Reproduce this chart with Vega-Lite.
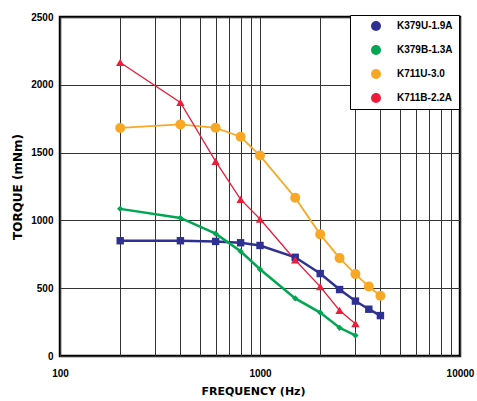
{
  "$schema": "https://vega.github.io/schema/vega-lite/v6.json",
  "width": 400,
  "height": 339,
  "autosize": {"type": "none"},
  "padding": {"left": 60, "top": 17, "right": 17, "bottom": 45},
  "background": "white",
  "config": {
    "view": {"stroke": "black", "strokeWidth": 2.5},
    "axis": {
      "labelFont": "Liberation Sans",
      "labelFontWeight": "bold",
      "labelFontSize": 10,
      "labelColor": "black",
      "titleFont": "DejaVu Sans",
      "titleFontWeight": "bold",
      "titleFontSize": 11,
      "titleColor": "black",
      "gridColor": "#333333",
      "gridOpacity": 1,
      "gridWidth": 1,
      "domain": false,
      "ticks": false
    }
  },
  "data": {
    "values": [
      {"series": "K379U-1.9A", "freq": 200, "torque": 850},
      {"series": "K379U-1.9A", "freq": 400, "torque": 850},
      {"series": "K379U-1.9A", "freq": 600, "torque": 845},
      {"series": "K379U-1.9A", "freq": 800, "torque": 835},
      {"series": "K379U-1.9A", "freq": 1000, "torque": 815},
      {"series": "K379U-1.9A", "freq": 1500, "torque": 728},
      {"series": "K379U-1.9A", "freq": 2000, "torque": 608},
      {"series": "K379U-1.9A", "freq": 2500, "torque": 490},
      {"series": "K379U-1.9A", "freq": 3000, "torque": 405},
      {"series": "K379U-1.9A", "freq": 3500, "torque": 345},
      {"series": "K379U-1.9A", "freq": 4000, "torque": 298},
      {"series": "K379B-1.3A", "freq": 200, "torque": 1085},
      {"series": "K379B-1.3A", "freq": 400, "torque": 1018},
      {"series": "K379B-1.3A", "freq": 600, "torque": 902},
      {"series": "K379B-1.3A", "freq": 800, "torque": 772},
      {"series": "K379B-1.3A", "freq": 1000, "torque": 640},
      {"series": "K379B-1.3A", "freq": 1500, "torque": 425},
      {"series": "K379B-1.3A", "freq": 2000, "torque": 320},
      {"series": "K379B-1.3A", "freq": 2500, "torque": 208},
      {"series": "K379B-1.3A", "freq": 3000, "torque": 152},
      {"series": "K711U-3.0", "freq": 200, "torque": 1682},
      {"series": "K711U-3.0", "freq": 400, "torque": 1708},
      {"series": "K711U-3.0", "freq": 600, "torque": 1683},
      {"series": "K711U-3.0", "freq": 800, "torque": 1617},
      {"series": "K711U-3.0", "freq": 1000, "torque": 1478},
      {"series": "K711U-3.0", "freq": 1500, "torque": 1167},
      {"series": "K711U-3.0", "freq": 2000, "torque": 897},
      {"series": "K711U-3.0", "freq": 2500, "torque": 722},
      {"series": "K711U-3.0", "freq": 3000, "torque": 604},
      {"series": "K711U-3.0", "freq": 3500, "torque": 512},
      {"series": "K711U-3.0", "freq": 4000, "torque": 444},
      {"series": "K711B-2.2A", "freq": 200, "torque": 2165},
      {"series": "K711B-2.2A", "freq": 400, "torque": 1870},
      {"series": "K711B-2.2A", "freq": 600, "torque": 1435},
      {"series": "K711B-2.2A", "freq": 800, "torque": 1155},
      {"series": "K711B-2.2A", "freq": 1000, "torque": 1010},
      {"series": "K711B-2.2A", "freq": 1500, "torque": 708},
      {"series": "K711B-2.2A", "freq": 2000, "torque": 512},
      {"series": "K711B-2.2A", "freq": 2500, "torque": 336},
      {"series": "K711B-2.2A", "freq": 3000, "torque": 238}
    ]
  },
  "encoding": {
    "x": {
      "field": "freq",
      "type": "quantitative",
      "scale": {"type": "log", "domain": [100, 10000], "nice": false},
      "axis": {
        "title": "FREQUENCY (Hz)",
        "values": [100, 200, 300, 400, 500, 600, 700, 800, 900, 1000, 2000, 3000, 4000, 5000, 6000, 7000, 8000, 9000, 10000],
        "labelExpr": "datum.value == 100 || datum.value == 1000 || datum.value == 10000 ? format(datum.value, 'd') : ''",
        "labelOverlap": false,
        "labelFlush": false,
        "labelPadding": 12,
        "titlePadding": 7,
        "titleX": 193
      }
    },
    "y": {
      "field": "torque",
      "type": "quantitative",
      "scale": {"domain": [0, 2500], "nice": false},
      "axis": {
        "title": "TORQUE (mNm)",
        "titleFontSize": 12,
        "values": [0, 500, 1000, 1500, 2000, 2500],
        "format": "d",
        "labelPadding": 7,
        "titlePadding": 6
      }
    },
    "color": {
      "field": "series",
      "type": "nominal",
      "scale": {
        "domain": ["K379U-1.9A", "K379B-1.3A", "K711U-3.0", "K711B-2.2A"],
        "range": ["#2E3192", "#00A651", "#F9A825", "#ED1C3A"]
      },
      "legend": {
        "title": null,
        "orient": "none",
        "legendX": 290,
        "legendY": -2,
        "padding": 6,
        "fillColor": "white",
        "strokeColor": "black",
        "symbolSize": 100,
        "symbolStrokeWidth": 0,
        "symbolOffset": 15,
        "labelOffset": 16,
        "rowPadding": 14,
        "labelFont": "Liberation Sans",
        "labelFontWeight": "bold",
        "labelFontSize": 10,
        "labelColor": "black",
        "encode": {
          "symbols": {
            "shape": {"value": {"expr": "datum.value == 'K379U-1.9A' ? 'M-3.1,-0.2H3.1V0.2H-3.1Z M-0.6,-0.6H0.6V0.6H-0.6Z' : datum.value == 'K379B-1.3A' ? 'M-3.1,-0.2H3.1V0.2H-3.1Z M0,-0.6L0.6,0L0,0.6L-0.6,0Z' : datum.value == 'K711U-3.0' ? 'M-3.1,-0.2H3.1V0.2H-3.1Z M-0.8,0A0.8,0.8 0 1,1 0.8,0A0.8,0.8 0 1,1 -0.8,0Z' : 'M-3.1,-0.2H3.1V0.2H-3.1Z M0,-0.75L0.75,0.55H-0.75Z'"}}
          }
        }
      }
    }
  },
  "layer": [
    {
      "transform": [{"filter": "datum.series == 'K379U-1.9A'"}],
      "mark": {"type": "line", "clip": true, "strokeWidth": 2.5},
      "encoding": {"color": {"value": "#2E3192"}}
    },
    {
      "transform": [{"filter": "datum.series == 'K379B-1.3A'"}],
      "mark": {"type": "line", "clip": true, "strokeWidth": 2.5},
      "encoding": {"color": {"value": "#00A651"}}
    },
    {
      "transform": [{"filter": "datum.series == 'K711U-3.0'"}],
      "mark": {"type": "line", "clip": true, "strokeWidth": 1.8},
      "encoding": {"color": {"value": "#F9A825"}}
    },
    {
      "transform": [{"filter": "datum.series == 'K711B-2.2A'"}],
      "mark": {"type": "line", "clip": true, "strokeWidth": 1.3},
      "encoding": {"color": {"value": "#ED1C3A"}}
    },
    {
      "transform": [{"filter": "datum.series == 'K379U-1.9A'"}],
      "mark": {"type": "point", "filled": true, "opacity": 1, "strokeWidth": 0, "shape": "square", "size": 55}
    },
    {
      "transform": [{"filter": "datum.series == 'K379B-1.3A'"}],
      "mark": {"type": "point", "filled": true, "opacity": 1, "strokeWidth": 0, "shape": "diamond", "size": 40}
    },
    {
      "transform": [{"filter": "datum.series == 'K711U-3.0'"}],
      "mark": {"type": "point", "filled": true, "opacity": 1, "strokeWidth": 0, "shape": "circle", "size": 100}
    },
    {
      "transform": [{"filter": "datum.series == 'K711B-2.2A'"}],
      "mark": {"type": "point", "filled": true, "opacity": 1, "strokeWidth": 0, "shape": "triangle-up", "size": 70}
    }
  ]
}
